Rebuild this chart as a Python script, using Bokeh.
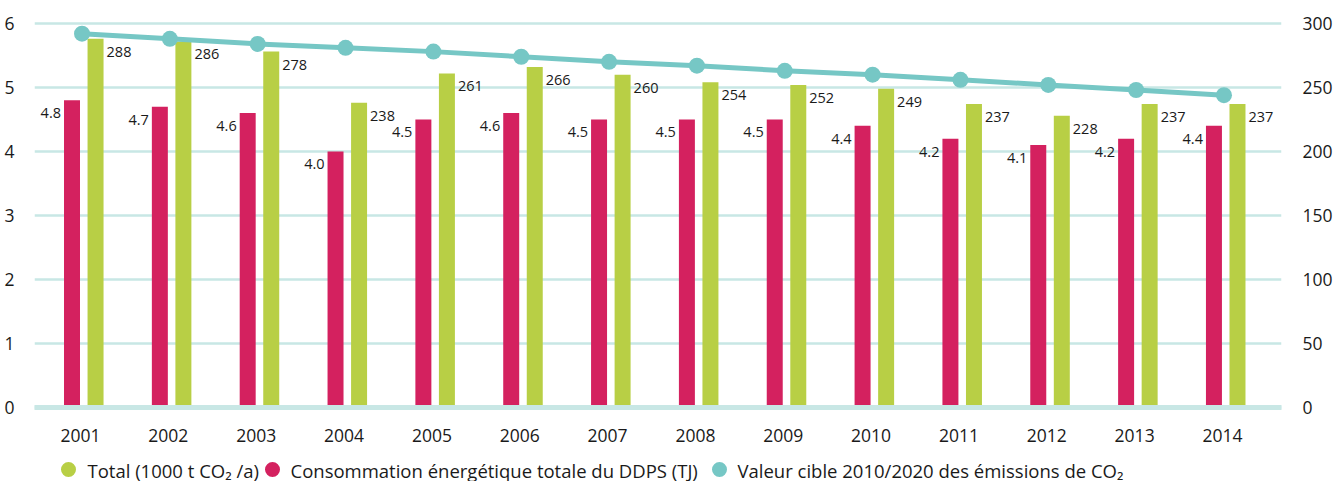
from bokeh.plotting import figure
from bokeh.layouts import column
from bokeh.models import Range1d, LinearAxis, FixedTicker, Span
from bokeh.core.properties import value
from bokeh.embed import file_html
from bokeh.resources import INLINE

# ---- data ----
years = [2001, 2002, 2003, 2004, 2005, 2006, 2007, 2008, 2009, 2010, 2011, 2012, 2013, 2014]
energy_tj = [4.8, 4.7, 4.6, 4.0, 4.5, 4.6, 4.5, 4.5, 4.5, 4.4, 4.2, 4.1, 4.2, 4.4]
total_co2 = [288, 286, 278, 238, 261, 266, 260, 254, 252, 249, 237, 228, 237, 237]
target_co2 = [292, 288, 284, 281, 278, 274, 270, 267, 263, 260, 256, 252, 248, 244]
energy_labels = ["4.8", "4.7", "4.6", "4.0", "4.5", "4.6", "4.5", "4.5", "4.5", "4.4", "4.2", "4.1", "4.2", "4.4"]
total_labels = [str(v) for v in total_co2]
left_ticks = [0, 1, 2, 3, 4, 5, 6]
right_ticks = [0, 50, 100, 150, 200, 250, 300]
legend_labels = ["Total (1000 t CO\u2082 /a)",
                 "Consommation énergétique totale du DDPS (TJ)",
                 "Valeur cible 2010/2020 des émissions de CO\u2082"]

# ---- style ----
RED = "#d4215f"
GREEN = "#b8cf45"
TEAL = "#76c7c5"
GRID = "#c8e7e5"
TXT = "#1a1a1a"
FONT = "Open Sans"

red_off = -0.097
green_off = 0.171
line_off = 0.017
bar_w = 0.182

W = 1341
H_MAIN = 452
H_LEG = 29
FRAME_L, FRAME_R = 34, 1281

p = figure(width=W, height=H_MAIN,
           x_range=Range1d(2000.476, 2014.672),
           y_range=Range1d(-0.047, 6.14),
           output_backend="svg", toolbar_location=None,
           min_border_left=FRAME_L, min_border_right=W - FRAME_R,
           min_border_top=14, min_border_bottom=42,
           outline_line_color=None, background_fill_color="white",
           border_fill_color="white")
p.extra_y_ranges = {"right": Range1d(-2.35, 307)}

p.xgrid.visible = False
p.ygrid.grid_line_color = GRID
p.ygrid.grid_line_width = 2.5
p.ygrid.ticker = FixedTicker(ticks=left_ticks)

p.xaxis.ticker = FixedTicker(ticks=years)
p.yaxis.ticker = FixedTicker(ticks=left_ticks)

ax_r = LinearAxis(y_range_name="right", ticker=FixedTicker(ticks=right_ticks))
p.add_layout(ax_r, "right")

for ax, standoff in ((p.xaxis[0], 12), (p.yaxis[0], 14), (ax_r, 15)):
    ax.axis_line_color = None
    ax.major_tick_line_color = None
    ax.minor_tick_line_color = None
    ax.major_label_text_font = FONT
    ax.major_label_text_font_size = "17.5px"
    ax.major_label_text_color = TXT
    ax.major_label_standoff = standoff

p.add_layout(Span(location=0, dimension="width", line_color=GRID,
                  line_width=5, line_cap="round"))

# bars
p.vbar(x=[y + red_off for y in years], top=energy_tj, width=bar_w,
       color=RED, line_color=None)
p.vbar(x=[y + green_off for y in years], top=total_co2, width=bar_w,
       color=GREEN, line_color=None, y_range_name="right")

# target line
p.line(x=[y + line_off for y in years], y=target_co2, line_width=5,
       color=TEAL, y_range_name="right")
p.scatter(x=[y + line_off for y in years], y=target_co2, size=16,
          marker="circle", color=TEAL, line_color=None, y_range_name="right")

# labels
p.text(x=[y + red_off - bar_w / 2 for y in years], y=energy_tj, text=energy_labels,
       x_offset=-3, y_offset=13, text_align="right", text_baseline="middle",
       text_font=value(FONT), text_font_size="14.5px", text_color=TXT)
p.text(x=[y + green_off + bar_w / 2 for y in years], y=total_co2, text=total_labels,
       x_offset=3, y_offset=13, text_align="left", text_baseline="middle",
       text_font=value(FONT), text_font_size="14.5px", text_color=TXT,
       y_range_name="right")

# ---- legend strip (frame aligned with main plot frame; units = page pixels) ----
leg_colors = [GREEN, RED, TEAL]
leg_dot_x = [68, 272, 719]
leg_text_x = [87, 290, 737]

lf = figure(width=W, height=H_LEG, x_range=Range1d(FRAME_L, FRAME_R),
            y_range=Range1d(0, H_LEG),
            output_backend="svg", toolbar_location=None,
            x_axis_type=None, y_axis_type=None,
            min_border_left=FRAME_L, min_border_right=W - FRAME_R,
            min_border_top=0, min_border_bottom=0,
            outline_line_color=None, background_fill_color="white",
            border_fill_color="white")
lf.xgrid.visible = False
lf.ygrid.visible = False
lf.scatter(x=leg_dot_x, y=[12] * 3, size=15, marker="circle",
           color=leg_colors, line_color=None)
lf.text(x=leg_text_x, y=[11] * 3, text=legend_labels, text_align="left",
        text_baseline="middle", text_font=value(FONT), text_font_size="18.5px",
        text_color=TXT)

layout = column(p, lf, spacing=0)
open("out.html", "w").write(file_html(layout, INLINE))
